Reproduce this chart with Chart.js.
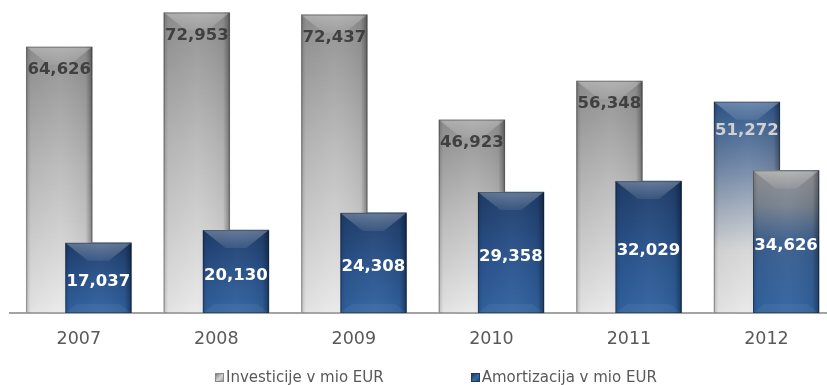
<!DOCTYPE html>
<html>
<head>
<meta charset="utf-8">
<title>Investicije in amortizacija</title>
<script src="https://cdn.jsdelivr.net/npm/chart.js@4.4.0/dist/chart.umd.min.js"></script>
<style>
  html, body { margin: 0; padding: 0; background: #fff; }
  #wrap { position: relative; width: 827px; height: 385px; overflow: hidden; }
  #box { position: absolute; left: 0; top: 0; width: 827px; height: 376px; }
  #legend {
    position: absolute; top: 368px; left: 215px;
    display: flex; gap: 87px;
    font: 15px "DejaVu Sans", Verdana, sans-serif; color: #595959; line-height: 18px;
  }
  #legend span.item { display: flex; align-items: center; white-space: nowrap; }
  #legend i { display: inline-block; width: 9px; height: 9px; margin-right: 2px; box-sizing: border-box; }
  #legend i.grey { background: linear-gradient(135deg, #7d7d7d, #d6d6d6 55%, #a0a0a0); border: 1px solid #888; }
  #legend i.blue { background: linear-gradient(135deg, #1d3a63, #3767a3 55%, #24497a); border: 1px solid #1d3a63; }
</style>
</head>
<body>
<div id="wrap">
  <div id="box"><canvas id="chart"></canvas></div>
  <div id="legend">
    <span class="item"><i class="grey"></i>Investicije v mio EUR</span>
    <span class="item"><i class="blue"></i>Amortizacija v mio EUR</span>
  </div>
</div>
<script>
const years = ['2007', '2008', '2009', '2010', '2011', '2012'];
const investicije = [64626, 72953, 72437, 46923, 56348, 51272];
const amortizacija = [17037, 20130, 24308, 29358, 32029, 34626];

// bars of one year overlap, shifted left/right of the year tick
const groupOffset = 0.142;

const greyStops = [[0, '#8f8f8f'], [0.45, '#bbbbbb'], [1, '#e9e9e9']];
const blueStops = [[0, '#1f3d69'], [0.5, '#29518a'], [1, '#3163a0']];
// in 2012 the two fills blend into each other
const mixedStops = {
  '0-5': [[0, '#2a5389'], [0.3, '#6f86a6'], [0.7, '#d6d6d6'], [1, '#e8e8e8']],
  '1-5': [[0, '#939393'], [0.25, '#78828f'], [0.5, '#3a5e8e'], [1, '#3163a0']]
};

function fmt(v) {
  return v.toLocaleString('en-US');
}

function paintBar(ctx, bar, stops) {
  const { x, y, base, width } = bar.getProps(['x', 'y', 'base', 'width'], true);
  const left = x - width / 2, right = x + width / 2, h = base - y;

  const g = ctx.createLinearGradient(0, y, 0, base);
  stops.forEach(([o, c]) => g.addColorStop(o, c));
  ctx.fillStyle = g;
  ctx.fillRect(left, y, width, h);

  // darker sides
  const s = ctx.createLinearGradient(left, 0, right, 0);
  s.addColorStop(0, 'rgba(0,0,0,0.18)');
  s.addColorStop(0.07, 'rgba(0,0,0,0.03)');
  s.addColorStop(0.5, 'rgba(255,255,255,0.03)');
  s.addColorStop(0.9, 'rgba(0,0,0,0.06)');
  s.addColorStop(1, 'rgba(0,0,0,0.38)');
  ctx.fillStyle = s;
  ctx.fillRect(left, y, width, h);

  // top bevel
  const d = Math.min(18, h * 0.3);
  ctx.beginPath();
  ctx.moveTo(left, y);
  ctx.lineTo(right, y);
  ctx.lineTo(right - d * 1.25, y + d);
  ctx.lineTo(left + d * 1.25, y + d);
  ctx.closePath();
  const t = ctx.createLinearGradient(0, y, 0, y + d);
  t.addColorStop(0, 'rgba(255,255,255,0.30)');
  t.addColorStop(1, 'rgba(255,255,255,0.08)');
  ctx.fillStyle = t;
  ctx.fill();

  // bottom bevel
  const b = Math.min(9, h * 0.15);
  ctx.beginPath();
  ctx.moveTo(left, base);
  ctx.lineTo(right, base);
  ctx.lineTo(right - b * 1.25, base - b);
  ctx.lineTo(left + b * 1.25, base - b);
  ctx.closePath();
  ctx.fillStyle = 'rgba(255,255,255,0.05)';
  ctx.fill();

  ctx.strokeStyle = 'rgba(0,0,0,0.28)';
  ctx.lineWidth = 1;
  ctx.strokeRect(left + 0.5, y + 0.5, width - 1, h - 1);
}

const bevelBars = {
  id: 'bevelBars',
  afterDatasetsDraw(chart) {
    const ctx = chart.ctx;
    ctx.save();
    [0, 1].forEach(di => {
      chart.getDatasetMeta(di).data.forEach((bar, i) => {
        const stops = mixedStops[di + '-' + i] || (di === 0 ? greyStops : blueStops);
        paintBar(ctx, bar, stops);
      });
    });

    ctx.font = 'bold 16.5px "DejaVu Sans", Verdana, sans-serif';
    ctx.textAlign = 'center';
    ctx.textBaseline = 'middle';
    chart.getDatasetMeta(0).data.forEach((bar, i) => {
      const { x, y } = bar.getProps(['x', 'y'], true);
      const last = i === years.length - 1;
      ctx.fillStyle = last ? '#d0d0d0' : '#404040';
      ctx.fillText(fmt(investicije[i]), x, y + (last ? 29 : 23));
    });
    chart.getDatasetMeta(1).data.forEach((bar, i) => {
      const { x, y, base } = bar.getProps(['x', 'y', 'base'], true);
      ctx.fillStyle = '#ffffff';
      ctx.fillText(fmt(amortizacija[i]), x, (y + base) / 2 + 4);
    });
    ctx.restore();
  }
};

new Chart(document.getElementById('chart'), {
  type: 'bar',
  data: {
    datasets: [
      {
        label: 'Investicije v mio EUR',
        data: years.map((_, i) => ({ x: i - groupOffset, y: investicije[i] })),
        backgroundColor: '#b9b9b9',
        order: 2
      },
      {
        label: 'Amortizacija v mio EUR',
        data: years.map((_, i) => ({ x: i + groupOffset, y: amortizacija[i] })),
        backgroundColor: '#29518a',
        order: 1
      }
    ]
  },
  options: {
    responsive: true,
    maintainAspectRatio: false,
    animation: false,
    grouped: false,
    barThickness: 66,
    layout: { padding: { left: 10, right: 0, top: 0, bottom: 10 } },
    plugins: {
      legend: { display: false },
      tooltip: { enabled: false }
    },
    scales: {
      x: {
        type: 'linear',
        offset: false,
        min: -0.5,
        max: 5.44,
        afterBuildTicks: scale => { scale.ticks = years.map((_, i) => ({ value: i })); },
        grid: { display: false, drawTicks: false, tickLength: 0, offset: false },
        border: { display: true, color: '#a3a3a3', width: 2 },
        ticks: {
          padding: 16,
          color: '#595959',
          font: { family: '"DejaVu Sans", Verdana, sans-serif', size: 17.5 },
          callback: v => years[v]
        }
      },
      y: {
        display: false,
        min: 0,
        max: 76000
      }
    }
  },
  plugins: [bevelBars]
});
</script>
</body>
</html>
